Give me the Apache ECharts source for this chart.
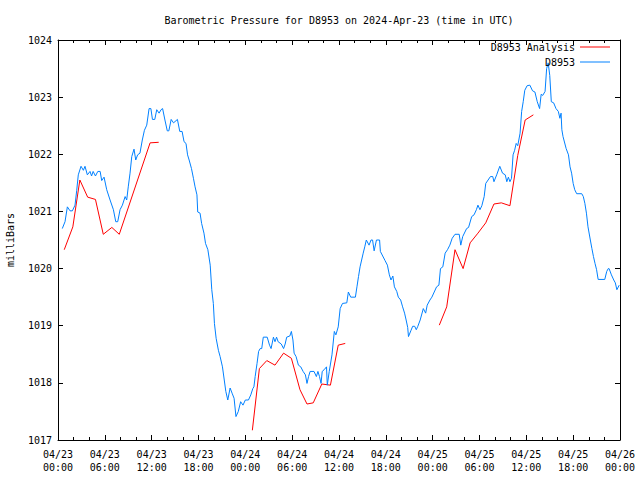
<!DOCTYPE html>
<html>
<head>
<meta charset="utf-8">
<script src="https://cdn.jsdelivr.net/npm/echarts@6/dist/echarts.min.js"></script>
<style>html,body{margin:0;padding:0;background:#fff}#c{width:640px;height:480px}</style>
</head>
<body>
<div id="c"></div>
<script>
// Hours since 2024-04-23 00:00 UTC
const xTickHours = [0, 6, 12, 18, 24, 30, 36, 42, 48, 54, 60, 66, 72];
const yTicks = [1017, 1018, 1019, 1020, 1021, 1022, 1023, 1024];

const stationName = 'D8953';
const analysisName = 'D8953 Analysis';

const stationHours = [0.55,0.9,1.2,1.54,1.84,2.18,2.4,2.6,2.95,3.25,3.46,3.76,4.1,4.3,4.5,4.8,5.1,5.4,5.6,5.9,6.24,6.67,7.1,7.4,7.65,7.95,8.25,8.6,8.8,9.0,9.23,9.45,9.74,9.96,10.2,10.5,10.8,11.07,11.37,11.67,11.9,12.1,12.4,12.65,12.95,13.2,13.4,13.7,14.0,14.2,14.5,14.8,15.3,15.6,15.9,16.15,16.4,16.6,16.8,17.1,17.35,17.56,17.8,17.9,18.2,18.4,18.7,18.9,19.2,19.5,19.7,19.9,20.04,20.26,20.55,20.77,21.07,21.3,21.5,21.75,22.05,22.3,22.56,22.8,23.1,23.4,23.7,24.0,24.4,24.7,24.96,25.1,25.26,25.5,25.7,25.9,26.1,26.3,26.8,27.1,27.3,27.6,27.8,28.0,28.2,28.6,28.9,29.1,29.3,29.7,29.9,30.1,30.25,30.5,30.8,31.1,31.4,31.7,31.9,32.1,32.3,32.8,33.1,33.3,33.5,33.7,33.85,34.1,34.4,34.5,34.75,35.1,35.4,35.6,35.9,36.15,36.45,37.0,37.2,37.5,38.1,38.3,38.5,38.7,38.9,39.1,39.3,39.5,39.85,40.1,40.3,40.5,40.8,41.2,41.3,41.6,41.9,42.2,42.45,42.66,42.9,43.1,43.4,43.6,43.9,44.15,44.4,44.6,44.8,44.9,45.2,45.44,45.7,45.9,46.1,46.4,46.8,47.1,47.3,47.65,47.9,48.2,48.5,48.8,49.0,49.3,49.6,49.9,50.2,50.5,50.86,51.4,51.6,51.85,52.35,52.6,53.0,53.3,53.6,53.8,54.06,54.3,54.6,54.8,55.1,55.4,55.7,55.85,56.2,56.6,56.95,57.3,57.5,57.7,57.9,58.1,58.3,58.5,58.7,58.9,59.2,59.4,59.6,59.8,60.1,60.45,60.8,61.1,61.4,61.7,61.9,62.1,62.4,62.6,62.8,63.0,63.2,63.5,63.8,64.1,64.3,64.45,64.55,64.7,65.1,65.4,65.6,65.8,66.0,66.2,66.45,67.1,67.3,67.5,67.7,67.9,68.2,68.4,68.6,68.8,69.0,69.2,70.05,70.3,70.5,70.6,70.9,71.2,71.4,71.6,71.9];

const stationValues = [1020.70,1020.82,1021.08,1021.01,1021.01,1021.11,1021.37,1021.64,1021.79,1021.72,1021.79,1021.64,1021.70,1021.62,1021.70,1021.62,1021.70,1021.70,1021.54,1021.60,1021.38,1021.20,1021.03,1020.82,1020.82,1021.03,1021.11,1021.26,1021.20,1021.43,1021.67,1021.96,1022.09,1021.90,1021.99,1022.02,1022.25,1022.42,1022.51,1022.80,1022.80,1022.61,1022.61,1022.78,1022.72,1022.78,1022.80,1022.60,1022.41,1022.41,1022.61,1022.55,1022.61,1022.40,1022.40,1022.22,1022.19,1021.99,1021.90,1021.75,1021.58,1021.43,1021.29,1020.99,1020.97,1020.79,1020.62,1020.44,1020.33,1020.06,1019.63,1019.39,1019.04,1018.78,1018.57,1018.46,1018.28,1018.05,1017.85,1017.70,1017.91,1017.82,1017.73,1017.41,1017.50,1017.67,1017.61,1017.70,1017.70,1017.79,1017.90,1017.93,1018.11,1018.34,1018.55,1018.60,1018.60,1018.80,1018.80,1018.66,1018.60,1018.80,1018.72,1018.80,1018.72,1018.68,1018.60,1018.68,1018.80,1018.82,1018.90,1018.75,1018.52,1018.46,1018.31,1018.28,1018.20,1018.14,1017.99,1018.11,1018.20,1018.20,1018.11,1018.20,1018.11,1017.99,1018.20,1018.23,1018.28,1017.96,1018.20,1018.49,1018.90,1018.84,1018.98,1019.30,1019.39,1019.40,1019.59,1019.50,1019.50,1019.68,1019.86,1020.03,1020.15,1020.27,1020.38,1020.50,1020.41,1020.50,1020.50,1020.31,1020.50,1020.50,1020.30,1020.22,1020.14,1020.06,1019.89,1019.80,1019.87,1019.68,1019.60,1019.50,1019.45,1019.33,1019.22,1019.10,1018.97,1018.81,1018.91,1018.99,1018.99,1018.93,1018.99,1019.10,1019.30,1019.22,1019.36,1019.45,1019.50,1019.59,1019.68,1019.71,1020.00,1020.03,1020.27,1020.33,1020.41,1020.53,1020.60,1020.60,1020.41,1020.56,1020.70,1020.72,1020.91,1020.94,1021.03,1021.11,1021.03,1021.10,1021.26,1021.49,1021.55,1021.61,1021.61,1021.52,1021.64,1021.79,1021.67,1021.64,1021.52,1021.60,1021.52,1021.58,1021.99,1022.07,1022.19,1022.15,1022.37,1022.75,1022.92,1023.12,1023.20,1023.21,1023.11,1023.09,1022.92,1022.80,1023.05,1023.03,1023.10,1023.50,1023.60,1023.38,1022.92,1022.90,1022.80,1022.75,1022.63,1022.72,1022.43,1022.31,1022.10,1021.99,1021.78,1021.67,1021.49,1021.38,1021.31,1021.31,1021.26,1021.14,1020.97,1020.73,1020.50,1020.35,1020.21,1020.09,1019.98,1019.81,1019.81,1019.95,1020.00,1020.00,1019.89,1019.80,1019.75,1019.63,1019.71];

// Analysis segments (separate runs, gaps between them)
const analysisHours1 = [0.8,1.9,2.8,3.8,4.8,5.8,6.9,7.85,11.8,12.9];
const analysisValues1 = [1020.33,1020.73,1021.55,1021.25,1021.21,1020.60,1020.72,1020.60,1022.20,1022.21];
const analysisHours2 = [24.9,25.8,26.75,27.8,28.9,29.9,31.0,31.9,32.7,33.8,34.9,35.9,36.8];
const analysisValues2 = [1017.17,1018.25,1018.39,1018.31,1018.52,1018.43,1017.88,1017.63,1017.65,1017.98,1017.96,1018.66,1018.69];
const analysisHours3 = [48.85,49.8,50.86,51.9,52.8,53.8,54.8,55.85,56.8,57.9,58.9,59.85,60.9];
const analysisValues3 = [1019.01,1019.33,1020.33,1020.00,1020.45,1020.62,1020.80,1021.13,1021.15,1021.10,1021.98,1022.60,1022.69];

function zip(a, b) { return a.map((v, i) => [v, b[i]]); }
const stationData = zip(stationHours, stationValues);
const analysisData = zip(analysisHours1, analysisValues1)
  .concat([[null, null]])
  .concat(zip(analysisHours2, analysisValues2))
  .concat([[null, null]])
  .concat(zip(analysisHours3, analysisValues3));

const FONT = 'DejaVu Sans Mono';
const pad = n => (n < 10 ? '0' : '') + n;
function xLabel(h) {
  const day = 23 + Math.floor(h / 24);
  const hr = h % 24;
  return '04/' + pad(day) + '\n' + pad(hr) + ':00';
}

const chart = echarts.init(document.getElementById('c'), null, { renderer: 'svg' });
const tickStyle = { color: '#000', width: 1 };
const baseX = {
  type: 'value', min: xTickHours[0], max: xTickHours[xTickHours.length - 1], interval: 6,
  axisLine: { show: true, onZero: false, lineStyle: { color: '#000', width: 1 } },
  axisTick: { show: true, inside: true, length: 5, lineStyle: tickStyle },
  minorTick: { show: true, splitNumber: 3, length: 3, lineStyle: tickStyle },
  splitLine: { show: false }, minorSplitLine: { show: false }
};
const baseY = {
  type: 'value', min: yTicks[0], max: yTicks[yTicks.length - 1], interval: 1,
  axisLine: { show: true, onZero: false, lineStyle: { color: '#000', width: 1 } },
  axisTick: { show: true, inside: true, length: 5, lineStyle: tickStyle },
  splitLine: { show: false }
};
const legendBase = {
  orient: 'vertical', align: 'right', right: 30,
  icon: 'rect', itemWidth: 30, itemHeight: 1, itemGap: 0, padding: 0,
  textStyle: { fontFamily: FONT, fontSize: 10, color: '#000' }
};

chart.setOption({
  animation: false,
  backgroundColor: '#fff',
  textStyle: { fontFamily: FONT },
  grid: { left: 58, right: 20, top: 40, bottom: 40, containLabel: false },
  xAxis: [
    Object.assign({}, baseX, {
      position: 'bottom',
      axisLabel: { show: true, color: '#000', fontFamily: FONT, fontSize: 10, lineHeight: 13, margin: 8, formatter: v => xLabel(v) }
    }),
    Object.assign({}, baseX, { position: 'top', axisLabel: { show: false } })
  ],
  yAxis: [
    Object.assign({}, baseY, {
      position: 'left',
      axisLabel: { show: true, color: '#000', fontFamily: FONT, fontSize: 10, margin: 6, formatter: v => String(v) }
    }),
    Object.assign({}, baseY, { position: 'right', axisLabel: { show: false } })
  ],
  legend: [
    Object.assign({}, legendBase, { data: [analysisName], top: 42 }),
    Object.assign({}, legendBase, { data: [stationName], top: 57 })
  ],
  graphic: [
    { type: 'text', x: 339, y: 20,
      style: { text: 'Barometric Pressure for D8953 on 2024-Apr-23 (time in UTC)', font: '10px "DejaVu Sans Mono"', fill: '#000', align: 'center', verticalAlign: 'middle' } },
    { type: 'text', x: 10, y: 240, rotation: Math.PI / 2,
      style: { text: 'milliBars', font: '10px "DejaVu Sans Mono"', fill: '#000', align: 'center', verticalAlign: 'middle' } }
  ],
  series: [
    { name: analysisName, type: 'line', data: analysisData, showSymbol: false, symbol: 'none',
      connectNulls: false, lineStyle: { color: '#ff0000', width: 1 }, itemStyle: { color: '#ff0000' } },
    { name: stationName, type: 'line', data: stationData, showSymbol: false, symbol: 'none',
      lineStyle: { color: '#0080ff', width: 1 }, itemStyle: { color: '#0080ff' } }
  ]
});
</script>
</body>
</html>
